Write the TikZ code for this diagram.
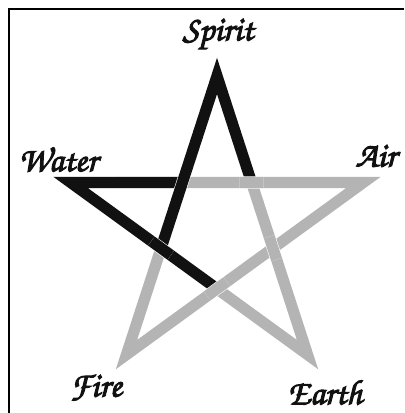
\documentclass[tikz,border=0pt]{standalone}
\usepackage[T1,TU]{fontenc}
\usetikzlibrary{calc}
\definecolor{cgrey}{HTML}{B4B4B4}
\definecolor{cdark}{HTML}{111111}
\newcommand{\chancery}{\fontencoding{T1}\fontfamily{pzc}\fontseries{mb}\fontshape{it}\selectfont}
\newcommand{\heavy}[1]{\special{pdf:literal 2 Tr 0.7 w}#1\special{pdf:literal 0 Tr 0.4 w}}
\tikzset{
  every picture/.style={x=0.025cm, y=0.025cm},
  band/.style={draw=white, double=#1, line width=0.4pt, double distance=0.28cm, line join=miter, line cap=butt},
  band/.default=cgrey,
  elem/.style={font=\chancery\fontsize{25}{27}\selectfont, text=cdark, inner sep=0pt},
}
\begin{document}
\begin{tikzpicture}
  \useasboundingbox (0,0) rectangle (404,413);
  \draw[line width=0.05cm] (9,0) -- (9,404) -- (404,404);
  % star points and inner crossings
  \coordinate (C) at (217,183);
  \foreach \n/\a in {S/90, A/18, E/306, F/234, W/162} \coordinate (\n) at ($(C)+(\a:154)$);
  \foreach \n/\a in {c1/126, c2/54, c3/198, c4/342, c5/270} \coordinate (\n) at ($(C)+(\a:58.8)$);
  \draw[band] (S) -- (F) -- (A) -- (W) -- (E) -- cycle;
  \draw[band=cdark] (c1) -- (W) -- (c5);
  \draw[band=cdark] (c3) -- (S) -- (c2);
  % over/under
  \draw[band=cdark] ($(c3)!0.3cm!(W)$) -- ($(c3)!0.3cm!(E)$);
  \draw[band] ($(c2)!0.3cm!(W)$) -- ($(c2)!0.3cm!(A)$);
  \draw[band] ($(c4)!0.3cm!(S)$) -- ($(c4)!0.3cm!(E)$);
  \draw[band] ($(c5)!0.3cm!(F)$) -- ($(c5)!0.3cm!(A)$);
  \foreach \t/\p in {Spirit/{218,378}, Water/{58,254}, Air/{376,257}, Fire/{96,25}, Earth/{325,21}}
    \node[elem] (\t) at (\p) {\heavy{\t}};
\end{tikzpicture}
\end{document}
